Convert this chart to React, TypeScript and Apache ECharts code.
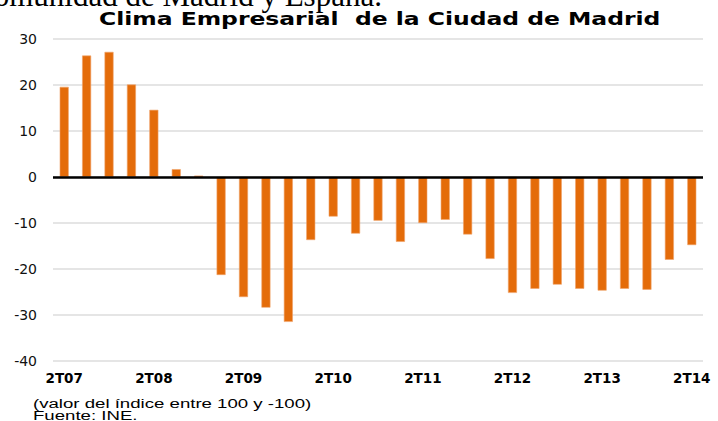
import React, { useEffect, useRef } from "react";
import * as echarts from "echarts";

const categories = [
  "2T07", "3T07", "4T07", "1T08", "2T08", "3T08", "4T08", "1T09",
  "2T09", "3T09", "4T09", "1T10", "2T10", "3T10", "4T10", "1T11",
  "2T11", "3T11", "4T11", "1T12", "2T12", "3T12", "4T12", "1T13",
  "2T13", "3T13", "4T13", "1T14", "2T14",
];
const values = [
  19.6, 26.4, 27.2, 20.1, 14.6, 1.7, 0.3, -21.3,
  -26.1, -28.4, -31.5, -13.7, -8.6, -12.3, -9.5, -14.1,
  -10.0, -9.3, -12.5, -17.8, -25.2, -24.3, -23.4, -24.3,
  -24.7, -24.3, -24.5, -18.0, -14.8,
];
const titleText = "Clima Empresarial  de la Ciudad de Madrid";
const topText = "Comunidad de Madrid y España.";
const noteLines = ["(valor del índice entre 100 y -100)", "Fuente: INE."];

const SANS = "'Liberation Sans', Arial, Helvetica, sans-serif";
const WIDE = "'DejaVu Sans', 'Liberation Sans', sans-serif";

export default function App() {
  const ref = useRef<HTMLDivElement>(null);
  useEffect(() => {
    if (!ref.current) return;
    const chart = echarts.init(ref.current, null, { renderer: "svg" });
    chart.setOption({
      animation: false,
      backgroundColor: "#ffffff",
      grid: { left: 53, right: 15, top: 39, bottom: 60, containLabel: false },
      graphic: [
        {
          type: "text",
          x: -27,
          y: -5,
          style: {
            text: topText,
            font: "31px 'Liberation Serif', 'Times New Roman', serif",
            fill: "#000",
            verticalAlign: "middle",
          },
        },
        {
          type: "text",
          x: 99,
          y: 19.5,
          scaleX: 1.38,
          style: {
            text: titleText,
            font: "bold 17px " + WIDE,
            fill: "#000",
            verticalAlign: "middle",
          },
        },
        {
          type: "text",
          x: 33,
          y: 403,
          scaleX: 1.38,
          style: {
            text: noteLines[0],
            font: "13.5px " + SANS,
            fill: "#000",
            verticalAlign: "middle",
          },
        },
        {
          type: "text",
          x: 33,
          y: 415.5,
          scaleX: 1.38,
          style: {
            text: noteLines[1],
            font: "13.5px " + SANS,
            fill: "#000",
            verticalAlign: "middle",
          },
        },
      ],
      xAxis: {
        type: "category",
        data: categories,
        axisLine: { show: false, onZero: false },
        axisTick: { show: false },
        axisLabel: {
          interval: 3,
          margin: 10,
          fontFamily: WIDE,
          fontSize: 13.5,
          fontWeight: "bold",
          color: "#000",
        },
        splitLine: { show: false },
      },
      yAxis: {
        type: "value",
        min: -40,
        max: 30,
        interval: 10,
        axisLine: { show: false },
        axisTick: { show: false },
        axisLabel: { margin: 16, fontFamily: WIDE, fontSize: 14, color: "#111" },
        splitLine: { lineStyle: { color: "#dcdcdc", width: 1.5 } },
      },
      series: [
        {
          type: "bar",
          data: values,
          barWidth: 9,
          itemStyle: { color: "#e46c0a", borderColor: "#f0a36a", borderWidth: 0.6 },
          markLine: {
            silent: true,
            symbol: "none",
            label: { show: false },
            lineStyle: { color: "#000", width: 2.5, type: "solid" },
            data: [{ yAxis: 0 }],
          },
        },
      ],
    });
    return () => chart.dispose();
  }, []);
  return (
    <div
      ref={ref}
      style={{ position: "absolute", left: 0, top: 0, width: 718, height: 421 }}
    />
  );
}
